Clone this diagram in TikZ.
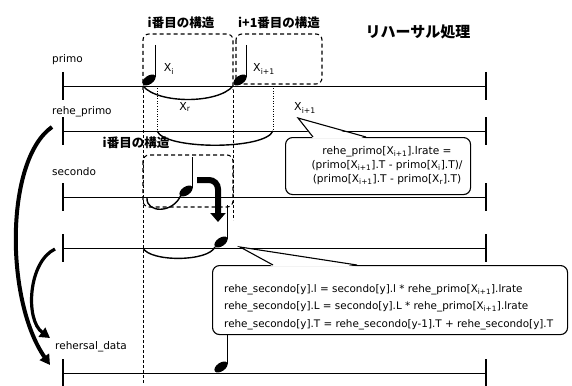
\documentclass[tikz,border=0pt]{standalone}
\usepackage{fontspec}
\setmainfont{DejaVu Sans}
\newfontfamily\jpfont{Noto Sans CJK JP}
\usetikzlibrary{arrows.meta}
\begin{document}
\begin{tikzpicture}[x=1pt,y=-1pt,
  staff/.style={line width=0.8pt},
  endbar/.style={line width=2.6pt},
  guide/.style={line width=0.6pt, dash pattern=on 3pt off 2pt},
  dotguide/.style={line width=0.6pt, dash pattern=on 1pt off 1.5pt},
  structbox/.style={line width=1.1pt, rounded corners=6pt, dash pattern=on 4pt off 3pt},
  slur/.style={line width=1.4pt},
  stem/.style={line width=1.1pt},
  lab/.style={font=\fontsize{10.5}{12}\selectfont, anchor=west, inner sep=0pt},
  jlab/.style={font=\jpfont\bfseries\fontsize{12.5}{14}\selectfont, inner sep=0pt},
  xlab/.style={font=\fontsize{11}{13}\selectfont, inner sep=0pt},
  callout/.style={draw, line width=1.1pt, rounded corners=7pt, fill=white, inner sep=0pt},
  ctext/.style={font=\fontsize{10.6}{14}\selectfont, inner sep=0pt},
  bigarrow/.style={line width=4pt, -{Triangle[width=11pt,length=10pt]}},
  notehd/.pic={\fill[rotate=35] (0,0) ellipse [x radius=7.5, y radius=4.2];}
]
\useasboundingbox (0,0) rectangle (572,385);

% staff lines with end bars
\foreach \n/\y in {p/86, rp/131, s/197, rs/248, d/373} {
  \coordinate (\n L) at (63,\y);
  \coordinate (\n R) at (486,\y);
  \draw[staff] (\n L) -- (\n R);
  \draw[endbar] ([yshift=14pt]\n L) -- ([yshift=-14pt]\n L);
  \draw[endbar] ([yshift=14pt]\n R) -- ([yshift=-14pt]\n R);
}

% staff labels
\node[lab] (lprimo) at (52,60) {primo};
\node[lab] (lrprimo) at (52,112) {rehe\_primo};
\node[lab] (lsecondo) at (52,172) {secondo};
\node[lab] (ldata) at (55,347) {rehersal\_data};

% titles
\node[jlab, font=\jpfont\bfseries\fontsize{15}{17}\selectfont] (title) at (418,32) {リハーサル処理};
\node[jlab] (st1) at (181,23) {i番目の構造};
\node[jlab] (st2) at (279,23) {i+1番目の構造};
\node[jlab] (st3) at (136,143) {i番目の構造};

% structure boxes and guides
\draw[structbox] (143,90) |- (233,34) -- (233,90);
\draw[structbox] (236,34) rectangle (322,84);
\draw[structbox] (143,155) rectangle (233,207);
\draw[guide] (143,90) -- (143,383);
\draw[guide] (233,90) -- (233,220);
\draw[dotguide] (157,86) -- (157,131);
\draw[dotguide] (273,86) -- (273,131);

% notes
\coordinate (n1) at (149,80);
\coordinate (n2) at (240,80);
\coordinate (n3) at (186,191);
\coordinate (n4) at (221,242);
\coordinate (n5) at (221,367);
\pic at (n1) {notehd};
\pic at (n2) {notehd};
\pic at (n3) {notehd};
\pic at (n4) {notehd};
\pic at (n5) {notehd};
\draw[stem] (155.5,45) -- (155.5,77);
\draw[stem] (246.5,45) -- (246.5,77);
\draw[stem] (192.5,157) -- (192.5,188);
\draw[stem] (227.5,205) -- (227.5,239);
\draw[stem] (227.5,334) -- (227.5,364);

% note labels
\node[xlab] (xi) at (169,69) {X\textsubscript{i}};
\node[xlab] (xi1) at (264,69) {X\textsubscript{i+1}};
\node[xlab] (xr) at (185,107) {X\textsubscript{r}};
\node[xlab] (xi1b) at (305,108) {X\textsubscript{i+1}};

% slurs
\coordinate (a1) at (143,86);
\coordinate (a2) at (233,86);
\draw[slur] (a1) .. controls (158,104) and (218,104) .. (a2);
\coordinate (b1) at (157,131);
\coordinate (b2) at (273,131);
\draw[slur] (b1) .. controls (165,150) and (265,150) .. (b2);
\coordinate (c1) at (147,198);
\coordinate (c2) at (181,195);
\draw[slur] (c1) .. controls (146,213) and (173,214) .. (c2);
\coordinate (d1) at (143,248);
\coordinate (d2) at (215,247);
\draw[slur] (d1) .. controls (150,262) and (208,262) .. (d2);

% thick bent arrow
\coordinate (ba1) at (197,180);
\coordinate (ba2) at (218,222);
\draw[line width=6pt, rounded corners=9pt, -{Triangle[width=15pt,length=9pt]}] (ba1) -- (218,180) -- (ba2);

% callout 1
\node[callout, minimum width=185pt, minimum height=57pt, anchor=north west] (cb1) at (285,137) {};
\coordinate (tip1) at (298,118);
\fill[white] (313,138.6) -- (tip1) -- (366,138.6) -- cycle;
\draw[line width=1.1pt] (313,137) -- (tip1) -- (366,137);
\node[ctext, align=center] (ct1) at (387,166) {rehe\_primo[X\textsubscript{i+1}].lrate =\\(primo[X\textsubscript{i+1}].T - primo[X\textsubscript{i}].T)/\\(primo[X\textsubscript{i+1}].T - primo[X\textsubscript{r}].T)};

% callout 2
\node[callout, minimum width=355pt, minimum height=69pt, anchor=north west] (cb2) at (212,265) {};
\coordinate (tip2) at (240,247);
\fill[white] (273,266.6) -- (tip2) -- (357,266.6) -- cycle;
\draw[line width=1.1pt] (273,265) -- (tip2) -- (357,265);
\node[ctext, align=left, anchor=west, font=\fontsize{10.4}{17.5}\selectfont] (ct2) at (224,307) {rehe\_secondo[y].l = secondo[y].l * rehe\_primo[X\textsubscript{i+1}].lrate\\rehe\_secondo[y].L = secondo[y].L * rehe\_primo[X\textsubscript{i+1}].lrate\\rehe\_secondo[y].T = rehe\_secondo[y-1].T + rehe\_secondo[y].T};

% big curved arrows on the left
\coordinate (g1) at (52,127);
\coordinate (g2) at (50,365);
\draw[bigarrow] (g1) .. controls (5,160) and (5,300) .. (g2);
\coordinate (h1) at (55,249);
\coordinate (h2) at (50,338);
\draw[bigarrow, line width=3.2pt] (h1) .. controls (28,262) and (25,320) .. (h2);
\end{tikzpicture}
\end{document}
